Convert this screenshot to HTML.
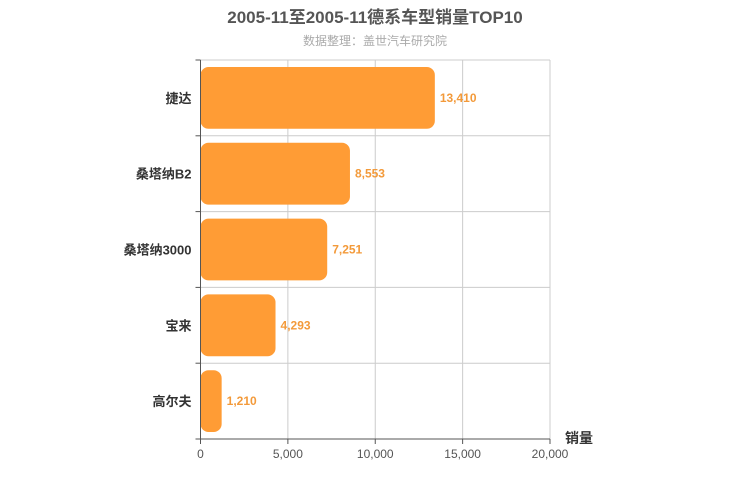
<!DOCTYPE html>
<html><head><meta charset="utf-8"><style>
body{margin:0;background:#fff;}
svg{display:block;font-family:"Liberation Sans","Noto Sans CJK SC",sans-serif;}
</style></head><body>
<svg id="chart" width="750" height="500">
<text x="375" y="23" text-anchor="middle" font-size="17" font-weight="bold" fill="#555">2005-11至2005-11德系车型销量TOP10</text>
<text x="375" y="45" text-anchor="middle" font-size="12" fill="#aaa">数据整理：盖世汽车研究院</text>
<g id="grid"></g><g id="bars"></g><g id="axes"></g>
<text x="565" y="443" font-size="14" font-weight="bold" fill="#333">销量</text>
</svg>
<script>
const categories=["捷达","桑塔纳B2","桑塔纳3000","宝来","高尔夫"];
const values=[13410,8553,7251,4293,1210];
const xTicks=[0,5000,10000,15000,20000];
const ns="http://www.w3.org/2000/svg";
const X0=200.5,X1=550,Y0=60,Y1=439,xMax=20000;
const band=(Y1-Y0)/categories.length;
function xs(v){return X0+(X1-X0)*v/xMax;}
function ys(i){return Y0+i*band;}
function mk(tag,attrs,parent,text){const e=document.createElementNS(ns,tag);for(const k in attrs)e.setAttribute(k,attrs[k]);if(text!==undefined)e.textContent=text;document.getElementById(parent).appendChild(e);return e;}
const fmt=v=>v.toLocaleString("en-US");
xTicks.forEach(t=>{
 if(t>0){const l=mk("line",{x1:xs(t),x2:xs(t),y1:Y0,y2:Y1,stroke:"#ccc"},"grid");
 
 }
 const tk=mk("line",{x1:xs(t),x2:xs(t),y1:Y1,y2:Y1+5,stroke:"#555"},"axes");
 
 
 const tl=mk("text",{x:xs(t),y:Y1+19,"text-anchor":"middle","font-size":12,fill:"#555"},"axes",fmt(t));
 
 
});
for(let i=0;i<=categories.length;i++){
 if(i>0&&i<categories.length){const g=mk("line",{x1:X0,x2:X1,y1:ys(i),y2:ys(i),stroke:"#ccc"},"grid");
 
 }
 const t=mk("line",{x1:X0-5,x2:X0,y1:ys(i),y2:ys(i),stroke:"#555"},"axes");
 
 
}
const topBorder=mk("line",{x1:X0,x2:X1,y1:Y0,y2:Y0,stroke:"#ccc"},"grid");


const rightBorder=mk("line",{x1:X1,x2:X1,y1:Y0,y2:Y1,stroke:"#ccc"},"grid");


const yAxisLine=mk("line",{x1:X0,x2:X0,y1:Y0,y2:Y1,stroke:"#555"},"axes");


const xAxisLine=mk("line",{x1:X0,x2:X1,y1:Y1,y2:Y1,stroke:"#555"},"axes");


categories.forEach((c,i)=>{
 const yc=ys(i)+band/2;
 const r=mk("rect",{x:X0,y:ys(i)+7,width:xs(values[i])-X0,height:band-14,rx:8,fill:"#ff9c35"},"bars");
 
 
 const vl=mk("text",{x:xs(values[i])+5,y:yc+4,"font-size":12,"font-weight":"bold",fill:"#f39a3a"},"bars",fmt(values[i]));
 
 
 const cl=mk("text",{x:X0-9,y:yc+5,"text-anchor":"end","font-size":13,"font-weight":"bold",fill:"#333"},"axes",c);
 
 
});
</script>
</body></html>
